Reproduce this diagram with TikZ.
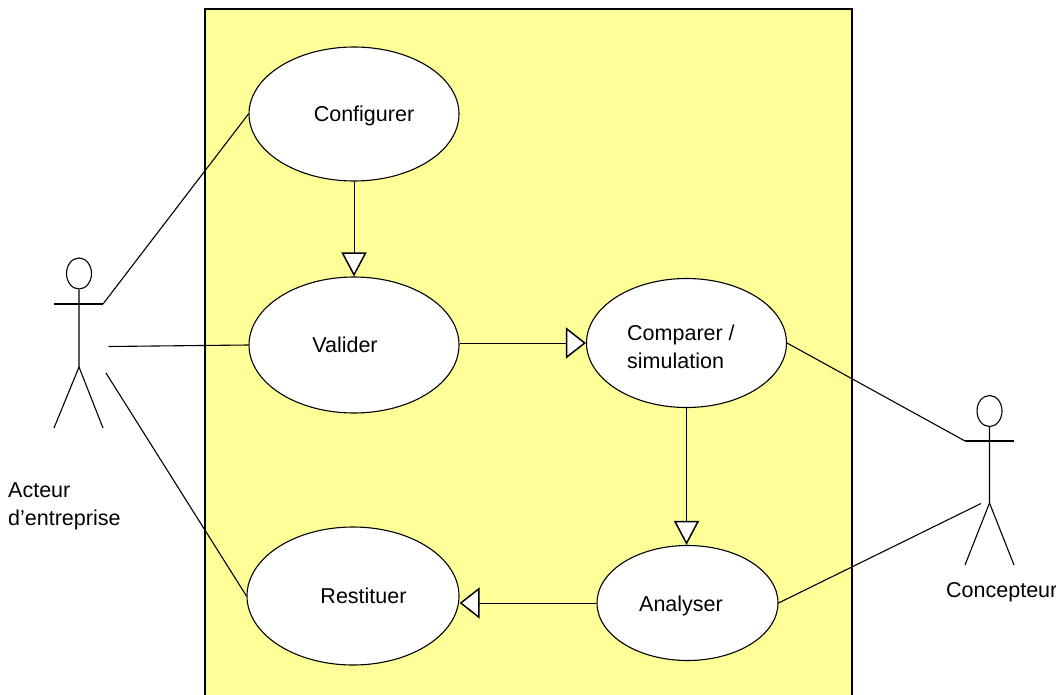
\documentclass[tikz,border=0pt]{standalone}
\usepackage{fontspec}
\setmainfont{Liberation Sans}
\usetikzlibrary{arrows.meta,shapes.geometric}
\definecolor{sysyellow}{HTML}{FFFF99}
\tikzset{
  x=1pt,y=-1pt,
  usecase/.style={ellipse,draw=black,fill=white,line width=1.1pt,inner sep=0pt,minimum width=#1},
  lbl/.style={font=\fontsize{21.5}{28}\selectfont,text=black,inner sep=0pt,anchor=base},
  assoc/.style={draw=black,line width=1.1pt},
  stick/.style={draw=black,line width=1.1pt},
  genh/.style={draw=black,line width=1pt,-{Triangle[open,length=20pt,width=31pt,fill=white,line width=1.5pt]}},
  genv/.style={draw=black,line width=1pt,-{Triangle[open,length=24pt,width=25pt,fill=white,line width=1.5pt]}},
}
\begin{document}
\begin{tikzpicture}
\useasboundingbox (0,0) rectangle (1056,695);
\fill[white] (0,0) rectangle (1056,695);
\path[fill=sysyellow,draw=black,line width=1.5pt] (205,9) rectangle (852,697);
% use cases
\node[usecase=210pt,minimum height=134pt] (cfg) at (354,114) {};
\node[usecase=210pt,minimum height=136pt] (val) at (354,345) {};
\node[usecase=200pt,minimum height=129pt] (cmp) at (686.5,343) {};
\node[usecase=181pt,minimum height=115pt] (ana) at (687.5,603) {};
\node[usecase=212pt,minimum height=138pt] (res) at (353,596) {};
% use-case labels
\node[lbl] (tcfg) at (364,122) {Configurer};
\node[lbl] (tval) at (345,352) {Valider};
\node[lbl,align=left,anchor=base west] (tcmp) at (627,368.5) {Comparer /\\simulation};
\node[lbl] (tana) at (681,611) {Analyser};
\node[lbl] (tres) at (363.5,603.5) {Restituer};
% left actor
\node[draw=black,ellipse,line width=1.1pt,minimum width=25pt,minimum height=31pt,inner sep=0pt] (h1) at (79,273.5) {};
\coordinate (a1l) at (54,304);
\coordinate (a1r) at (103,304);
\coordinate (a1hip) at (79,367);
\coordinate (a1fl) at (54,428);
\coordinate (a1fr) at (103,428);
\draw[stick] (h1.south) -- (a1hip) -- (a1fl);
\draw[stick] (a1hip) -- (a1fr);
\draw[stick] (a1l) -- (a1r);
% right actor
\node[draw=black,ellipse,line width=1.1pt,minimum width=25pt,minimum height=31pt,inner sep=0pt] (h2) at (989.5,411) {};
\coordinate (a2l) at (965,441);
\coordinate (a2r) at (1014,441);
\coordinate (a2hip) at (989.5,503);
\coordinate (a2fl) at (965,565);
\coordinate (a2fr) at (1014,565);
\draw[stick] (h2.south) -- (a2hip) -- (a2fl);
\draw[stick] (a2hip) -- (a2fr);
\draw[stick] (a2l) -- (a2r);
% free ends
\coordinate (e1) at (108.5,346.5);
\coordinate (e2) at (106,373);
\coordinate (e3) at (981,503.5);
% associations
\draw[assoc] (a1r) -- (cfg.west);
\draw[assoc] (e1) -- (val.west);
\draw[assoc] (e2) -- (res.west);
\draw[assoc] (cmp.east) -- (a2l);
\draw[assoc] (ana.east) -- (e3);
% generalisations
\draw[genv] (cfg.south) -- (val.north);
\draw[genh] (val.east |- cmp.west) -- (cmp.west);
\draw[genv] (cmp.south) -- (cmp.south |- ana.north);
\draw[genh] (ana.west) -- (res.east |- ana.west);
% actor labels
\node[lbl,align=left,anchor=base west] (ta1) at (8,525) {Acteur\\d’entreprise};
\node[lbl,anchor=base west] (ta2) at (946,597) {Concepteur};
\end{tikzpicture}
\end{document}
